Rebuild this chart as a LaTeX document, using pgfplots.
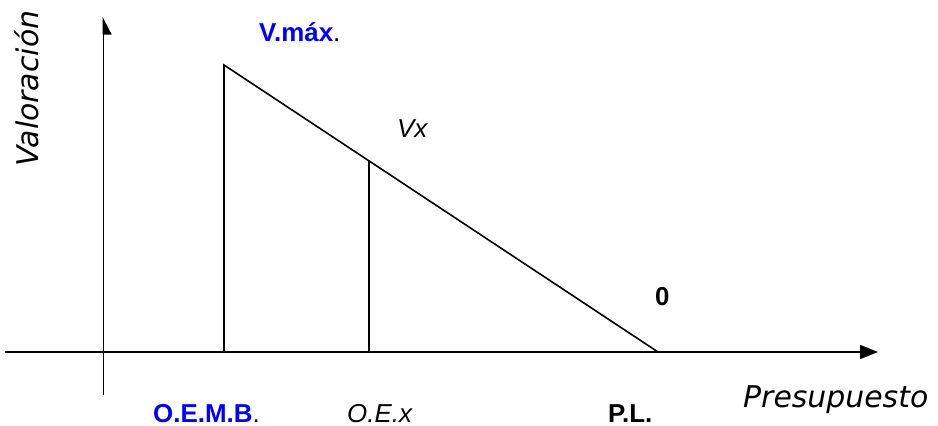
\documentclass[border=0pt]{standalone}
\usepackage{pgfplots}
\pgfplotsset{compat=1.18}
\usepackage{fontspec}
\setmainfont{Liberation Sans}
\newfontfamily\verd{DejaVu Sans}
\usetikzlibrary{arrows.meta}
\definecolor{lblue}{RGB}{0,0,255}

\begin{document}
\begin{tikzpicture}
\begin{axis}[
    width=938bp, height=426bp,
    scale only axis,
    xmin=0, xmax=938, ymin=0, ymax=426,
    hide axis,
    clip=false,
    cycle list={{black, line width=1.6bp, mark=none}},
]
% ejes
\addplot[black, line width=1.6bp, -{Triangle[length=18bp,width=14bp]}] coordinates {(5,74) (878,74)};
\addplot[black, line width=1.6bp, -{Triangle[length=16bp,width=16bp,right]}] coordinates {(103.5,31) (103.5,409)};
% valoracion
\addplot[black, line width=1.6bp] coordinates {(224,74) (224,361) (658,74)};
\addplot[black, line width=1.6bp] coordinates {(369,74) (369,266)};

\path (axis cs:0,0) rectangle (axis cs:938,426);

\node[anchor=base west, font=\fontsize{26}{28}\selectfont\bfseries, inner sep=0]
    at (axis cs:259,384) {\textcolor{lblue}{V.máx}\mdseries.};
\node[anchor=base west, font=\fontsize{26}{28}\selectfont\itshape, inner sep=0]
    at (axis cs:397,288) {Vx};
\node[anchor=base west, font=\fontsize{26}{28}\selectfont\bfseries, inner sep=0]
    at (axis cs:655,120) {0};
\node[anchor=base west, font=\fontsize{26}{28}\selectfont\bfseries, inner sep=0, text=lblue]
    at (axis cs:153,4) {O.E.M.B{\mdseries.}};
\node[anchor=base west, font=\fontsize{26}{28}\selectfont\itshape, inner sep=0]
    at (axis cs:347,4) {O.E.x};
\node[anchor=base west, font=\fontsize{26}{28}\selectfont\bfseries, inner sep=0]
    at (axis cs:608,4) {P.L.};
\node[anchor=base west, font=\verd\fontsize{30}{32}\selectfont\itshape, inner sep=0]
    at (axis cs:743,19) {Presupuesto};
\node[anchor=base west, rotate=90, font=\verd\fontsize{30}{32}\selectfont\itshape, inner sep=0]
    at (axis cs:38,259) {Valoración};
\end{axis}
\end{tikzpicture}
\end{document}
